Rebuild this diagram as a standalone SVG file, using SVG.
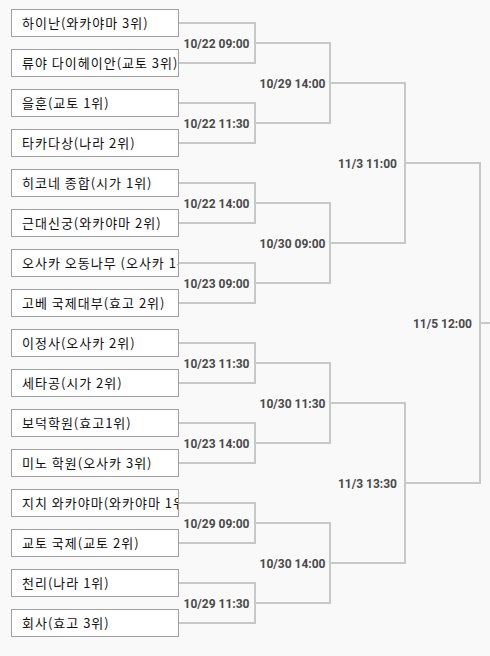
<svg xmlns="http://www.w3.org/2000/svg" width="490" height="656" viewBox="0 0 490 656">
<style>
.bg{fill:#f9f9f9}
.box{fill:#ffffff;stroke:#a0a0a0;stroke-width:1}
.team{font-family:"Noto Sans CJK KR","Noto Sans",sans-serif;font-size:13px;letter-spacing:1px;fill:#111}
.lbl{font-family:Roboto,"Liberation Sans",sans-serif;font-size:12px;font-weight:bold;fill:#4a4a4a;text-anchor:middle}
.ln{fill:none;stroke:#c8c8c8;stroke-width:2}
</style>
<defs>
<clipPath id="clipBox"><rect x="12" y="0" width="166" height="656"/></clipPath>
</defs>
<rect class="bg" x="0" y="0" width="490" height="656"/>
<g id="connectors">
<path class="ln" d="M178.5,23 H255 V63 H178.5"/>
<path class="ln" d="M178.5,103 H255 V143 H178.5"/>
<path class="ln" d="M178.5,183 H255 V223 H178.5"/>
<path class="ln" d="M178.5,263 H255 V303 H178.5"/>
<path class="ln" d="M178.5,343 H255 V383 H178.5"/>
<path class="ln" d="M178.5,423 H255 V463 H178.5"/>
<path class="ln" d="M178.5,503 H255 V543 H178.5"/>
<path class="ln" d="M178.5,583 H255 V623 H178.5"/>
<path class="ln" d="M255,43 H330 V123 H255"/>
<path class="ln" d="M255,203 H330 V283 H255"/>
<path class="ln" d="M255,363 H330 V443 H255"/>
<path class="ln" d="M255,523 H330 V603 H255"/>
<path class="ln" d="M330,83 H405 V243 H330"/>
<path class="ln" d="M330,403 H405 V563 H330"/>
<path class="ln" d="M405,163 H480 V483 H405"/>
<path class="ln" d="M480,323 H490"/>
</g>
<g id="labels">
<text class="lbl" x="216.5" y="47.5">10/22 09:00</text>
<text class="lbl" x="216.5" y="127.5">10/22 11:30</text>
<text class="lbl" x="216.5" y="207.5">10/22 14:00</text>
<text class="lbl" x="216.5" y="287.5">10/23 09:00</text>
<text class="lbl" x="216.5" y="367.5">10/23 11:30</text>
<text class="lbl" x="216.5" y="447.5">10/23 14:00</text>
<text class="lbl" x="216.5" y="527.5">10/29 09:00</text>
<text class="lbl" x="216.5" y="607.5">10/29 11:30</text>
<text class="lbl" x="292.5" y="87.5">10/29 14:00</text>
<text class="lbl" x="292.5" y="247.5">10/30 09:00</text>
<text class="lbl" x="292.5" y="407.5">10/30 11:30</text>
<text class="lbl" x="292.5" y="567.5">10/30 14:00</text>
<text class="lbl" x="367.5" y="167.5">11/3 11:00</text>
<text class="lbl" x="367.5" y="487.5">11/3 13:30</text>
<text class="lbl" x="442.5" y="327.5">11/5 12:00</text>
</g>
<g id="team1"><rect class="box" x="11.5" y="9.5" width="167" height="27"/><text class="team" x="22" y="28" clip-path="url(#clipBox)">하이난(와카야마 3위)</text></g>
<g id="team2"><rect class="box" x="11.5" y="49.5" width="167" height="27"/><text class="team" x="22" y="68" clip-path="url(#clipBox)">류야 다이헤이안(교토 3위)</text></g>
<g id="team3"><rect class="box" x="11.5" y="89.5" width="167" height="27"/><text class="team" x="22" y="108" clip-path="url(#clipBox)">을훈(교토 1위)</text></g>
<g id="team4"><rect class="box" x="11.5" y="129.5" width="167" height="27"/><text class="team" x="22" y="148" clip-path="url(#clipBox)">타카다상(나라 2위)</text></g>
<g id="team5"><rect class="box" x="11.5" y="169.5" width="167" height="27"/><text class="team" x="22" y="188" clip-path="url(#clipBox)">히코네 종합(시가 1위)</text></g>
<g id="team6"><rect class="box" x="11.5" y="209.5" width="167" height="27"/><text class="team" x="22" y="228" clip-path="url(#clipBox)">근대신궁(와카야마 2위)</text></g>
<g id="team7"><rect class="box" x="11.5" y="249.5" width="167" height="27"/><text class="team" x="22" y="268" clip-path="url(#clipBox)">오사카 오동나무 (오사카 1위)</text></g>
<g id="team8"><rect class="box" x="11.5" y="289.5" width="167" height="27"/><text class="team" x="22" y="308" clip-path="url(#clipBox)">고베 국제대부(효고 2위)</text></g>
<g id="team9"><rect class="box" x="11.5" y="329.5" width="167" height="27"/><text class="team" x="22" y="348" clip-path="url(#clipBox)">이정사(오사카 2위)</text></g>
<g id="team10"><rect class="box" x="11.5" y="369.5" width="167" height="27"/><text class="team" x="22" y="388" clip-path="url(#clipBox)">세타공(시가 2위)</text></g>
<g id="team11"><rect class="box" x="11.5" y="409.5" width="167" height="27"/><text class="team" x="22" y="428" clip-path="url(#clipBox)">보덕학원(효고1위)</text></g>
<g id="team12"><rect class="box" x="11.5" y="449.5" width="167" height="27"/><text class="team" x="22" y="468" clip-path="url(#clipBox)">미노 학원(오사카 3위)</text></g>
<g id="team13"><rect class="box" x="11.5" y="489.5" width="167" height="27"/><text class="team" x="22" y="508" clip-path="url(#clipBox)">지치 와카야마(와카야마 1위)</text></g>
<g id="team14"><rect class="box" x="11.5" y="529.5" width="167" height="27"/><text class="team" x="22" y="548" clip-path="url(#clipBox)">교토 국제(교토 2위)</text></g>
<g id="team15"><rect class="box" x="11.5" y="569.5" width="167" height="27"/><text class="team" x="22" y="588" clip-path="url(#clipBox)">천리(나라 1위)</text></g>
<g id="team16"><rect class="box" x="11.5" y="609.5" width="167" height="27"/><text class="team" x="22" y="628" clip-path="url(#clipBox)">회사(효고 3위)</text></g>
</svg>
